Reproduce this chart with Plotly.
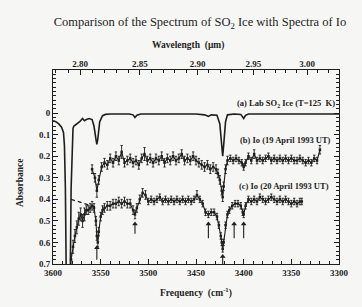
import plotly.graph_objects as go

# ---------------- data ----------------
# (a) Lab SO2 ice spectrum (smooth)
lab_freq = [3600, 3597, 3594, 3591, 3589, 3588, 3587, 3586, 3584, 3582, 3581, 3580, 3579, 3578, 3575,
            3572, 3569, 3567, 3565, 3562, 3559, 3557, 3555, 3554, 3553, 3551, 3548, 3545, 3540,
            3520, 3516, 3514, 3512, 3508, 3480, 3450, 3441, 3437, 3434, 3428, 3425, 3423, 3422,
            3421, 3419, 3417, 3410, 3403, 3401, 3400, 3398, 3395, 3350, 3300]
lab_abs = [0.035, 0.04, 0.05, 0.065, 0.09, 0.15, 0.35, 0.8, 0.8, 0.8, 0.35, 0.12, 0.07, 0.06, 0.05,
           0.04, 0.025, 0.035, 0.03, 0.025, 0.03, 0.06, 0.12, 0.145, 0.12, 0.04, 0.012, 0.006, 0.004,
           0.004, 0.008, 0.02, 0.01, 0.004, 0.004, 0.004, 0.008, 0.015, 0.008, 0.01, 0.05, 0.15, 0.2,
           0.15, 0.04, 0.008, 0.004, 0.006, 0.02, 0.025, 0.01, 0.004, 0.004, 0.004]

# (b) Io, 19 April 1993 UT
io19_freq = [3559, 3556, 3554, 3552, 3549, 3546, 3543, 3540, 3537, 3534, 3531, 3528, 3525, 3522,
             3519, 3516, 3513, 3510, 3507, 3504, 3501, 3498, 3495, 3492, 3489, 3486, 3483, 3480,
             3477, 3474, 3471, 3468, 3465, 3462, 3459, 3456, 3453, 3450, 3447, 3444, 3441, 3438,
             3435, 3432, 3429, 3427, 3425, 3423, 3422, 3421, 3419, 3417, 3414, 3411, 3408, 3405,
             3402, 3400, 3398, 3395, 3392, 3389, 3386, 3383, 3380, 3377, 3374, 3371, 3368, 3365,
             3362, 3359, 3356, 3353, 3350, 3347, 3344, 3341, 3338, 3335, 3332, 3329, 3326, 3323, 3320]
io19_abs = [0.26, 0.30, 0.36, 0.31, 0.25, 0.23, 0.24, 0.21, 0.23, 0.20, 0.22, 0.18, 0.23, 0.22,
            0.21, 0.23, 0.22, 0.24, 0.21, 0.19, 0.22, 0.21, 0.23, 0.21, 0.22, 0.20, 0.23, 0.21,
            0.22, 0.20, 0.22, 0.21, 0.19, 0.22, 0.21, 0.22, 0.20, 0.22, 0.23, 0.24, 0.25, 0.24,
            0.26, 0.25, 0.26, 0.28, 0.31, 0.36, 0.39, 0.34, 0.26, 0.22, 0.21, 0.22, 0.21, 0.22,
            0.23, 0.25, 0.23, 0.20, 0.22, 0.19, 0.22, 0.21, 0.22, 0.21, 0.20, 0.22, 0.21, 0.22,
            0.21, 0.22, 0.21, 0.22, 0.21, 0.22, 0.22, 0.21, 0.22, 0.23, 0.22, 0.23, 0.21, 0.22, 0.17]
io19_err = [0.02, 0.02, 0.03, 0.02, 0.02, 0.02, 0.02, 0.02, 0.02, 0.02, 0.02, 0.03, 0.02, 0.02,
            0.02, 0.02, 0.02, 0.02, 0.02, 0.03, 0.02, 0.02, 0.02, 0.02, 0.02, 0.02, 0.02, 0.02,
            0.02, 0.02, 0.02, 0.02, 0.02, 0.02, 0.02, 0.02, 0.02, 0.02, 0.02, 0.02, 0.02, 0.02,
            0.02, 0.02, 0.02, 0.02, 0.02, 0.02, 0.02, 0.02, 0.02, 0.02, 0.015, 0.015, 0.015, 0.015,
            0.015, 0.015, 0.015, 0.015, 0.015, 0.02, 0.015, 0.015, 0.015, 0.015, 0.015, 0.015, 0.015, 0.015,
            0.015, 0.015, 0.015, 0.015, 0.015, 0.015, 0.015, 0.015, 0.015, 0.015, 0.015, 0.015, 0.015, 0.015, 0.02]

# (c) Io, 20 April 1993 UT
io20_freq = [3581, 3579, 3577, 3575, 3573, 3571, 3569, 3567, 3565, 3563, 3561, 3559, 3557, 3555,
             3554, 3553, 3552, 3550, 3548, 3546, 3543, 3540, 3537, 3534, 3531, 3528, 3525, 3522,
             3519, 3516, 3514, 3512, 3509, 3506, 3503, 3500, 3497, 3494, 3491, 3488, 3485, 3482,
             3479, 3476, 3473, 3470, 3467, 3464, 3461, 3458, 3455, 3452, 3449, 3446, 3443, 3440,
             3437, 3434, 3431, 3428, 3426, 3424, 3423, 3422, 3421, 3419, 3417, 3415, 3412, 3409,
             3406, 3403, 3401, 3400, 3398, 3395, 3392, 3389, 3386, 3383, 3380, 3377, 3374, 3371,
             3368, 3365, 3362, 3359, 3356, 3353, 3350, 3347, 3344, 3341, 3339]
io20_abs = [0.68, 0.62, 0.57, 0.53, 0.49, 0.47, 0.50, 0.47, 0.45, 0.45, 0.44, 0.43, 0.44, 0.50,
            0.57, 0.60, 0.55, 0.48, 0.45, 0.44, 0.43, 0.43, 0.42, 0.42, 0.41, 0.42, 0.41, 0.42,
            0.42, 0.45, 0.47, 0.44, 0.40, 0.37, 0.38, 0.41, 0.40, 0.41, 0.40, 0.39, 0.41, 0.40,
            0.41, 0.40, 0.41, 0.40, 0.41, 0.40, 0.41, 0.40, 0.41, 0.40, 0.38, 0.40, 0.42, 0.46,
            0.47, 0.46, 0.46, 0.48, 0.52, 0.57, 0.60, 0.63, 0.60, 0.52, 0.47, 0.45, 0.43, 0.42,
            0.42, 0.43, 0.46, 0.47, 0.43, 0.40, 0.41, 0.40, 0.41, 0.39, 0.40, 0.41, 0.40, 0.39,
            0.40, 0.41, 0.40, 0.41, 0.40, 0.41, 0.42, 0.41, 0.42, 0.41, 0.41]
io20_err = [0.03, 0.03, 0.03, 0.03, 0.03, 0.03, 0.03, 0.03, 0.02, 0.02, 0.02, 0.02, 0.02, 0.02,
            0.02, 0.02, 0.02, 0.02, 0.02, 0.02, 0.02, 0.02, 0.02, 0.02, 0.02, 0.02, 0.02, 0.02,
            0.02, 0.02, 0.02, 0.02, 0.02, 0.02, 0.02, 0.015, 0.015, 0.015, 0.015, 0.015, 0.015, 0.015,
            0.015, 0.015, 0.015, 0.015, 0.015, 0.015, 0.015, 0.015, 0.015, 0.015, 0.02, 0.015, 0.015, 0.015,
            0.015, 0.015, 0.015, 0.015, 0.015, 0.015, 0.015, 0.015, 0.015, 0.015, 0.015, 0.015, 0.015, 0.015,
            0.015, 0.015, 0.015, 0.015, 0.015, 0.015, 0.015, 0.015, 0.015, 0.015, 0.015, 0.015, 0.015, 0.015,
            0.015, 0.015, 0.015, 0.015, 0.015, 0.015, 0.015, 0.015, 0.015, 0.015, 0.015]

# dashed continuum guide
dash_freq = [3581, 3556]
dash_abs = [0.40, 0.435]

# arrows marking absorption features (freq, head, tail)
arrow_freq = [3554, 3514, 3437, 3422, 3410, 3400]
arrow_head = [0.625, 0.515, 0.515, 0.665, 0.515, 0.515]
arrow_tail = [0.68, 0.56, 0.58, 0.70, 0.58, 0.58]

# curve labels
label_text = ["(a) Lab SO<sub>2</sub> Ice (T=125  K)", "(b) Io (19 April 1993 UT)", "(c) Io (20 April 1993 UT)"]
label_freq = [3302, 3306, 3308]
label_abs = [-0.045, 0.125, 0.34]

# axis ticks
freq_ticks = [3600, 3550, 3500, 3450, 3400, 3350, 3300]
abs_ticks = [0, 0.1, 0.2, 0.3, 0.4, 0.5, 0.6, 0.7]
abs_tick_labels = ["0", "0.1", "0.2", "0.3", "0.4", "0.5", "0.6", "0.7"]
wl_ticks = [2.80, 2.85, 2.90, 2.95, 3.00]
wl_tick_labels = ["2.80", "2.85", "2.90", "2.95", "3.00"]
wl_minor = [2.78, 2.79, 2.81, 2.82, 2.83, 2.84, 2.86, 2.87, 2.88, 2.89, 2.91, 2.92, 2.93, 2.94,
            2.96, 2.97, 2.98, 2.99, 3.01, 3.02, 3.03]

# ---------------- figure ----------------
INK = "#1e1e1e"
BG = "#f6f6f4"
SERIF = "Liberation Serif, DejaVu Serif, serif"
XR = [3600, 3300]
YR = [0.7, -0.2]

fig = go.Figure()

fig.add_trace(go.Scatter(x=lab_freq, y=lab_abs, mode="lines",
                         line=dict(color=INK, width=1.6), showlegend=False))
fig.add_trace(go.Scatter(x=io19_freq, y=io19_abs, mode="lines+markers",
                         line=dict(color=INK, width=1.1), marker=dict(color=INK, size=2.5, symbol="square"),
                         error_y=dict(type="data", array=io19_err, color=INK, thickness=0.9, width=1.2),
                         showlegend=False))
fig.add_trace(go.Scatter(x=io20_freq, y=io20_abs, mode="lines+markers",
                         line=dict(color=INK, width=1.1), marker=dict(color=INK, size=2.5, symbol="square"),
                         error_y=dict(type="data", array=io20_err, color=INK, thickness=0.9, width=1.2),
                         showlegend=False))
fig.add_trace(go.Scatter(x=dash_freq, y=dash_abs, mode="lines",
                         line=dict(color=INK, width=1.3, dash="4px,3px"), showlegend=False))

# arrows: shaft segments + triangle heads
shaft_x, shaft_y = [], []
for f, h, t in zip(arrow_freq, arrow_head, arrow_tail):
    shaft_x += [f, f, None]
    shaft_y += [t, h, None]
fig.add_trace(go.Scatter(x=shaft_x, y=shaft_y, mode="lines", line=dict(color=INK, width=1.1),
                         showlegend=False, hoverinfo="skip"))
fig.add_trace(go.Scatter(x=arrow_freq, y=arrow_head, mode="markers",
                         marker=dict(symbol="triangle-up", size=5, color=INK), showlegend=False,
                         hoverinfo="skip"))

# invisible traces to activate top axes
fig.add_trace(go.Scatter(x=[10000 / w for w in wl_ticks], y=[None] * len(wl_ticks),
                         xaxis="x2", yaxis="y", showlegend=False, hoverinfo="skip"))
fig.add_trace(go.Scatter(x=[10000 / w for w in wl_minor], y=[None] * len(wl_minor),
                         xaxis="x3", yaxis="y", showlegend=False, hoverinfo="skip"))

fig.update_layout(
    width=362, height=307,
    margin=dict(l=53, r=23, t=70, b=43),
    paper_bgcolor=BG, plot_bgcolor=BG,
    hovermode=False,
    title=dict(text="Comparison of the Spectrum of SO<sub>2</sub> Ice with Spectra of Io",
               x=200 / 362, xref="container", xanchor="center",
               y=1 - 22 / 307, yanchor="middle",
               font=dict(family=SERIF, size=12.5, color=INK)),
    xaxis=dict(range=XR, tickvals=freq_ticks, ticktext=[str(v) for v in freq_ticks],
               ticks="inside", ticklen=5, tickcolor=INK, tickwidth=1,
               minor=dict(dtick=10, ticks="inside", ticklen=3, tickcolor=INK),
               showline=True, linecolor=INK, linewidth=1, mirror=True,
               showgrid=False, zeroline=False,
               tickfont=dict(family=SERIF, size=9, color=INK, weight="bold")),
    xaxis2=dict(range=XR, overlaying="x", side="top", tickvals=[10000 / w for w in wl_ticks],
                ticktext=wl_tick_labels, ticks="inside", ticklen=5, tickcolor=INK,
                showline=False, showgrid=False, zeroline=False,
                tickfont=dict(family=SERIF, size=9, color=INK, weight="bold")),
    xaxis3=dict(range=XR, overlaying="x", side="top", tickvals=[10000 / w for w in wl_minor],
                showticklabels=False, ticks="inside", ticklen=3, tickcolor=INK,
                showline=False, showgrid=False, zeroline=False),
    yaxis=dict(range=YR, tickvals=abs_ticks, ticktext=abs_tick_labels,
               ticks="inside", ticklen=5, tickcolor=INK,
               minor=dict(dtick=0.02, ticks="inside", ticklen=3, tickcolor=INK),
               showline=True, linecolor=INK, linewidth=1, mirror="ticks",
               showgrid=False, zeroline=False,
               tickfont=dict(family=SERIF, size=9, color=INK, weight="bold")),
)

annotations = []
for t, fx, fy in zip(label_text, label_freq, label_abs):
    annotations.append(dict(text=t, x=fx, y=fy, xref="x", yref="y", xanchor="right", yanchor="middle",
                            showarrow=False, font=dict(family=SERIF, size=8.5, color=INK, weight="bold")))
annotations.append(dict(text="Wavelength  (μm)", x=(188 - 53) / 286, y=(264 - 45) / 194,
                        xref="paper", yref="paper", showarrow=False, xanchor="center", yanchor="middle",
                        font=dict(family=SERIF, size=9.5, color=INK, weight="bold")))
annotations.append(dict(text="Frequency  (cm<sup>-1</sup>)", x=(196 - 53) / 286, y=(264 - 292) / 194,
                        xref="paper", yref="paper", showarrow=False, xanchor="center", yanchor="middle",
                        font=dict(family=SERIF, size=9.5, color=INK, weight="bold")))
annotations.append(dict(text="Absorbance", x=(20 - 53) / 286, y=(264 - 183) / 194, textangle=-90,
                        xref="paper", yref="paper", showarrow=False, xanchor="center", yanchor="middle",
                        font=dict(family=SERIF, size=9.5, color=INK, weight="bold")))
fig.update_layout(annotations=annotations)

fig.write_html("out.html", config={"displayModeBar": False},
               post_script="document.body.style.margin='0px';document.body.style.overflow='hidden';")
